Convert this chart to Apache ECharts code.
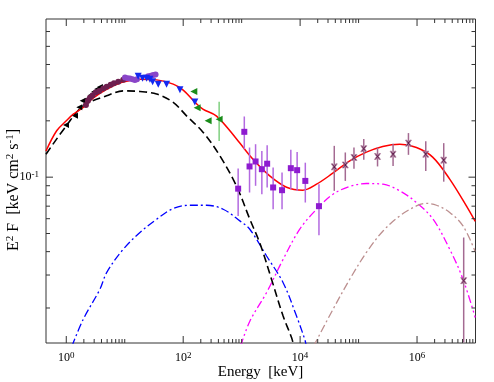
<!DOCTYPE html>
<html><head><meta charset="utf-8">
<script src="https://cdn.jsdelivr.net/npm/echarts@6/dist/echarts.min.js"></script>
<style>html,body{margin:0;padding:0;background:#fff}#c{width:494px;height:382px}</style>
</head><body><div id="c"></div>
<script>
// ---- axis ticks ----
const xTickMajor = [1, 100, 1e4, 1e6];
const xTickMinor = [2,3,4,5,6,7,8,9,10, 200,300,400,500,600,700,800,900,1000,
  2e4,3e4,4e4,5e4,6e4,7e4,8e4,9e4,1e5, 2e6,3e6,4e6,5e6,6e6,7e6,8e6,9e6];
const yTickMajor = [0.1];
const yTickMinor = [0.02,0.03,0.04,0.05,0.06,0.07,0.08,0.09,0.2,0.3,0.4,0.5,0.6];
const xLabelExps = [0, 2, 4, 6];
const yLabelExps = [-1];

// ---- model curves [E keV, E^2F] ----
const modelTotal = [[0.45,0.138],[0.685,0.177],[1.0,0.200],[1.32,0.217],[1.95,0.236],[2.54,0.256],
  [3.77,0.280],[5.58,0.301],[9.31,0.322],[18.2,0.334],[35.1,0.331],[67.5,0.314],[100,0.292],
  [158,0.252],[217,0.231],[372,0.212],[818,0.160],[1550,0.125],[3020,0.1016],[5860,0.0884],
  [11100,0.0852],[19100,0.0917],[36200,0.105],[70800,0.1222],[136000,0.136],[259000,0.146],
  [507000,0.150],[977000,0.144],[1.85e6,0.128],[3.62e6,0.0976],[6.98e6,0.0702],[9.9e6,0.058]];
const modelBlack = [[0.45,0.1327],[1.0,0.188],[1.95,0.2406],[4.9,0.272],[9.43,0.289],[18.2,0.287],
  [35.1,0.278],[67.5,0.251],[114,0.2127],[220,0.1734],[424,0.130],[818,0.0895],[1380,0.0596],
  [2050,0.0443],[3240,0.0285],[5120,0.0181],[7130,0.0139],[7800,0.0125]];
const modelBlue = [[1.25,0.0125],[1.95,0.0174],[3.77,0.0252],[4.9,0.0309],[9.43,0.0412],[18.2,0.0506],
  [35.1,0.0596],[67.5,0.068],[130,0.0708],[251,0.0708],[483,0.0674],[931,0.0584],[1380,0.0527],
  [2670,0.0379],[5120,0.0273],[8680,0.0181],[12000,0.0136],[12800,0.0125]];
const modelMagenta = [[960,0.0125],[1380,0.0170],[2670,0.0242],[5120,0.0364],[9860,0.0527],
  [19100,0.0674],[36600,0.0811],[70800,0.0892],[136000,0.0925],[262000,0.0917],[507000,0.0845],
  [977000,0.0732],[1.88e6,0.0596],[3.62e6,0.0412],[6.11e6,0.0285],[9.88e6,0.0178]];
const modelBrown = [[17000,0.0125],[36600,0.0197],[70800,0.0285],[136000,0.0396],[262000,0.0516],
  [507000,0.0621],[977000,0.0702],[1.45e6,0.0724],[2.15e6,0.0708],[3.62e6,0.0648],
  [6.11e6,0.0549],[9.88e6,0.040]];

// ---- data points ----
const blackTri = [[0.99,0.190],[1.41,0.213],[1.67,0.236],[1.91,0.256],[2.23,0.261],[2.61,0.274],[3.0,0.286],[3.39,0.296],[3.77,0.303]];
const maroonDots = [[2.17,0.243],[2.35,0.256],[2.54,0.266],[2.83,0.274],[3.22,0.284],[3.66,0.289],[4.29,0.298],[4.91,0.304],[5.74,0.312],[6.54,0.318],[7.74,0.323],[9.43,0.332]];
const violetDots = [[10.1,0.341],[11.2,0.338],[12.3,0.337],[13.6,0.334],[14.9,0.330],[16.2,0.334],[25.2,0.346],[28.0,0.348],[30.7,0.352],[33.7,0.354]];
const blueTri = [[17.0,0.346],[20.2,0.338],[23.7,0.338],[27.0,0.334],[30.0,0.323],[37.4,0.314],[52.0,0.314],[87.9,0.293],[158,0.252]];
const greenTri = [[152,0.287],[173,0.235],[267,0.200],[412,0.204]];
const greenErr = [[412,0.156,0.253]];
const squaresE = [871,1110,1364,1730,2215,2730,3455,4906,6935,8890,12270,21000];
const squaresF = [0.0868,0.1747,0.1141,0.1213,0.1103,0.118,0.0881,0.0852,0.1117,0.109,0.0955,0.070];
const squaresLo = [0.0621,0.141,0.0828,0.0899,0.0811,0.0881,0.0674,0.0674,0.0863,0.0845,0.0732,0.049];
const squaresHi = [0.1113,0.211,0.144,0.150,0.138,0.148,0.1127,0.106,0.140,0.1365,0.1195,0.0917];
const crossE = [38400,59300,83400,122700,211000,389000,713000,1.41e6,2.86e6,6.28e6];
const crossF = [0.1135,0.1162,0.1274,0.142,0.129,0.1327,0.152,0.1327,0.1233,0.028];
const crossLo = [0.0845,0.0955,0.111,0.124,0.1141,0.1149,0.1316,0.108,0.0946,0.0131];
const crossHi = [0.147,0.1355,0.144,0.1597,0.144,0.151,0.172,0.1557,0.152,0.0476];

const xTitle = 'Energy  [keV]';
const yTitle = '{b|E}{s|2}{b| F  [keV cm}{s|2}{b| s}{s|-1}{b|]}';

const X_MIN = 0.45, X_MAX = 1e7, Y_MIN = 0.013, Y_MAX = 0.7;
const FONT = 'Liberation Serif';
const FRAME = '#333';

const chart = echarts.init(document.getElementById('c'));

function expOf(v){ const l = Math.log10(v); const e = Math.round(l); return Math.abs(l - e) < 1e-6 ? e : null; }
const rich = {
  b: {fontSize: 12, fontFamily: FONT, color: '#000', lineHeight: 14},
  s: {fontSize: 9, fontFamily: FONT, color: '#000', verticalAlign: 'top', lineHeight: 9}
};

function tickSeries(vals, len, dir) {
  return {
    type: 'custom', silent: true, z: 5, clip: false,
    data: vals.map(v => dir === 'x' ? [v, 0.1] : [1, v]),
    encode: {x: 0, y: 1},
    renderItem: function (params, api) {
      const v = dir === 'x' ? api.value(0) : api.value(1);
      let items;
      if (dir === 'x') {
        const b = api.coord([v, Y_MIN]), t = api.coord([v, Y_MAX]);
        items = [
          {type: 'line', shape: {x1: b[0], y1: b[1], x2: b[0], y2: b[1] - len}},
          {type: 'line', shape: {x1: t[0], y1: t[1], x2: t[0], y2: t[1] + len}}
        ];
      } else {
        const l = api.coord([X_MIN, v]), r = api.coord([X_MAX, v]);
        items = [
          {type: 'line', shape: {x1: l[0], y1: l[1], x2: l[0] + len, y2: l[1]}},
          {type: 'line', shape: {x1: r[0], y1: r[1], x2: r[0] - len, y2: r[1]}}
        ];
      }
      items.forEach(it => it.style = {stroke: FRAME, lineWidth: 1});
      return {type: 'group', children: items};
    }
  };
}

function errSeries(rows, color, width) {
  return {
    type: 'custom', silent: true, z: 3, clip: true,
    data: rows,
    encode: {x: 0, y: [1, 2]},
    renderItem: function (params, api) {
      const e = api.value(0);
      const p1 = api.coord([e, api.value(1)]), p2 = api.coord([e, api.value(2)]);
      return {type: 'line', shape: {x1: p1[0], y1: p1[1], x2: p2[0], y2: p2[1]},
        style: {stroke: color, lineWidth: width}};
    }
  };
}

function lineSeries(data, color, type, width) {
  return {type: 'line', data: data, symbol: 'none', smooth: 0.35, z: 2, silent: true,
    lineStyle: {color: color, width: width, type: type}};
}
function scatterSeries(data, symbol, size, color, border) {
  return {type: 'scatter', data: data, symbol: symbol, symbolSize: size, z: 4, silent: true,
    itemStyle: {color: color, borderColor: border || color, borderWidth: border ? 0.8 : 0, opacity: 1}};
}

const triLeft = 'path://M0,5L10,0L10,10Z';
const triDown = 'path://M0,0L10,0L5,10Z';
const xMark = 'path://M0,0L2.5,0L5,3.2L7.5,0L10,0L6.6,5L10,10L7.5,10L5,6.8L2.5,10L0,10L3.4,5Z';

const option = {
  animation: false,
  backgroundColor: '#fff',
  grid: {left: 46, right: 18.5, top: 19, bottom: 39, show: true, borderColor: FRAME, borderWidth: 1,
    backgroundColor: 'transparent', containLabel: false, outerBoundsMode: 'none'},
  graphic: [
    {type: 'text', x: 260.5, y: 372, silent: true,
      style: {text: xTitle, fontFamily: FONT, fontSize: 15, fill: '#000', align: 'center', verticalAlign: 'middle'}},
    {type: 'text', x: 14, y: 190, rotation: Math.PI / 2, silent: true,
      style: {text: yTitle, align: 'center', verticalAlign: 'middle', rich: {
        b: {fontFamily: FONT, fontSize: 16, fill: '#000', lineHeight: 18},
        s: {fontFamily: FONT, fontSize: 11, fill: '#000', verticalAlign: 'top', lineHeight: 11}}}}
  ],
  xAxis: {
    type: 'log', logBase: 10, min: X_MIN, max: X_MAX,
    axisLine: {show: false}, axisTick: {show: false}, splitLine: {show: false},
    axisLabel: {margin: 8, showMinLabel: false, showMaxLabel: false, rich: rich,
      formatter: function (v) { const e = expOf(v); return (e !== null && xLabelExps.indexOf(e) >= 0) ? '{b|10}{s|' + e + '}' : ''; }}
  },
  yAxis: {
    type: 'log', logBase: 10, min: Y_MIN, max: Y_MAX,
    axisLine: {show: false}, axisTick: {show: false}, splitLine: {show: false},
    axisLabel: {margin: 7, showMinLabel: false, showMaxLabel: false, rich: rich,
      formatter: function (v) { const e = expOf(v); return (e !== null && yLabelExps.indexOf(e) >= 0) ? '{b|10}{s|' + e + '}' : ''; }}
  },
  series: [
    lineSeries(modelBlue, '#0000ff', [8, 3, 2, 3], 1.3),
    lineSeries(modelMagenta, '#ff00ff', [8, 3, 2, 3, 2, 3], 1.3),
    lineSeries(modelBrown, '#bc8f8f', [8, 3, 2, 3], 1.3),
    lineSeries(modelBlack, '#000000', [8, 4], 1.6),
    lineSeries(modelTotal, '#ff0000', 'solid', 1.5),
    errSeries(greenErr, '#7fcf7f', 1.5),
    errSeries(squaresE.map((e, i) => [e, squaresLo[i], squaresHi[i]]), '#b36ae0', 1.5),
    errSeries(crossE.map((e, i) => [e, crossLo[i], crossHi[i]]), '#a46a92', 1.5),
    scatterSeries(blackTri, triLeft, 6, '#000000'),
    scatterSeries(maroonDots, 'circle', 6, '#6e1f4f'),
    scatterSeries(violetDots, 'circle', 6, '#8a45c8'),
    scatterSeries(blueTri, triDown, 7, '#1428f0'),
    scatterSeries(greenTri, triLeft, 7, '#1a8c1a'),
    scatterSeries(squaresE.map((e, i) => [e, squaresF[i]]), 'rect', 6, '#8e1bd0'),
    scatterSeries(crossE.map((e, i) => [e, crossF[i]]), xMark, 6, '#5c1848', '#b080a0'),
    tickSeries(xTickMajor, 7, 'x'),
    tickSeries(xTickMinor, 4, 'x'),
    tickSeries(yTickMajor, 7, 'y'),
    tickSeries(yTickMinor, 4, 'y')
  ]
};
chart.setOption(option);
</script>
</body></html>
